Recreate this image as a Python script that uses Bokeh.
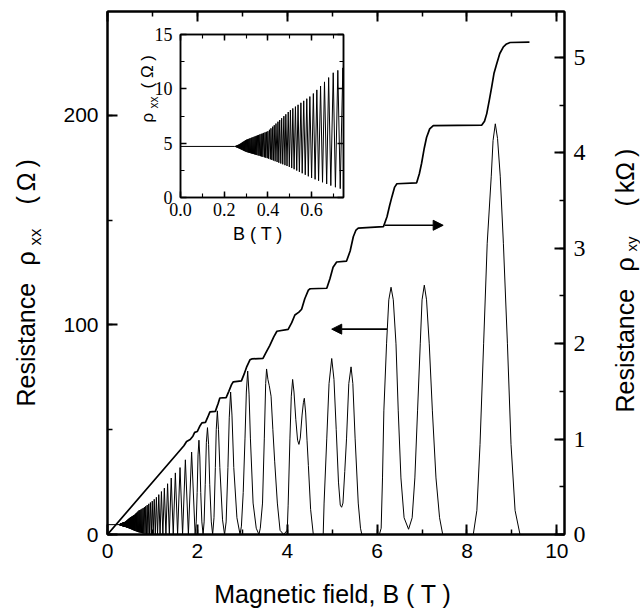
import numpy as np
from bokeh.plotting import figure
from bokeh.models import (LinearAxis, Range1d, Label, Arrow, NormalHead,
                          SingleIntervalTicker, PrintfTickFormatter)
from bokeh.embed import file_html
from bokeh.resources import INLINE

# ---------------- data ----------------
# Hall resistivity rho_xy (kOhm) against B (T)
hall_B = [0.0, 1.60, 1.70, 1.76, 1.84, 1.90, 1.94, 2.00, 2.06, 2.10, 2.18, 2.24, 2.28,
          2.40, 2.46, 2.50, 2.64, 2.70, 2.76, 2.80, 2.98, 3.04, 3.10, 3.17, 3.21, 3.46,
          3.52, 3.61, 3.70, 3.77, 4.02, 4.10, 4.17, 4.26, 4.32, 4.39, 4.47, 4.51, 4.88,
          4.95, 5.02, 5.10, 5.32, 5.40, 5.47, 5.53, 5.58, 6.14, 6.22, 6.28, 6.33, 6.39,
          6.44, 6.88, 6.94, 6.99, 7.05, 7.10, 7.17, 7.25, 8.33, 8.39, 8.44, 8.50, 8.55,
          8.60, 8.66, 8.73, 8.81, 8.88, 8.96, 9.39]
hall_kohm = [0.0, 0.875, 0.93, 0.975, 0.995, 1.03, 1.07, 1.08, 1.14, 1.17, 1.175, 1.24, 1.285,
             1.29, 1.37, 1.43, 1.435, 1.50, 1.57, 1.60, 1.61, 1.68, 1.76, 1.83, 1.84, 1.845,
             1.90, 1.98, 2.07, 2.13, 2.15, 2.22, 2.30, 2.33, 2.36, 2.47, 2.56, 2.575, 2.58,
             2.68, 2.80, 2.855, 2.865, 2.97, 3.12, 3.19, 3.21, 3.225, 3.33, 3.45, 3.54, 3.64,
             3.675, 3.685, 3.78, 3.89, 4.05, 4.16, 4.25, 4.285, 4.29, 4.33, 4.41, 4.56, 4.69,
             4.83, 4.93, 5.04, 5.11, 5.14, 5.155, 5.16]

# rho_xx (Ohm) below the onset of oscillations
rxx_flat_B = [0.0, 0.247]
rxx_flat_ohm = [4.7, 4.7]

# positions (T) of the unresolved low-field oscillation maxima and minima
sdh_max_B = [0.2503, 0.2530, 0.2557, 0.2586, 0.2615, 0.2644, 0.2674, 0.2705, 0.2737,
             0.2769, 0.2802, 0.2836, 0.2871, 0.2907,
             0.294, 0.298, 0.302, 0.306, 0.310, 0.314, 0.318, 0.323, 0.327, 0.332, 0.337,
             0.342, 0.347, 0.352, 0.357, 0.363, 0.369, 0.374, 0.3805, 0.387, 0.393, 0.400,
             0.407, 0.414, 0.422, 0.429, 0.437, 0.446, 0.454, 0.463, 0.473, 0.482, 0.493,
             0.503, 0.514, 0.526, 0.538, 0.551, 0.564, 0.578, 0.592, 0.608, 0.624, 0.641,
             0.659, 0.678, 0.699, 0.720, 0.743, 0.767, 0.793, 0.821, 0.851, 0.883, 0.918,
             0.955, 0.996, 1.040, 1.088, 1.141, 1.200, 1.265, 1.337, 1.418, 1.510, 1.614,
             1.733, 1.872]
sdh_min_B = [0.2489, 0.2516, 0.2543, 0.2571, 0.2600, 0.2629, 0.2659, 0.2690, 0.2721,
             0.2753, 0.2786, 0.2819, 0.2854, 0.2889,
             0.2925, 0.296, 0.300, 0.304, 0.308, 0.312, 0.316, 0.321, 0.325, 0.330, 0.334,
             0.339, 0.344, 0.349, 0.355, 0.360, 0.366, 0.371, 0.377, 0.384, 0.390, 0.397,
             0.403, 0.411, 0.418, 0.425, 0.433, 0.442, 0.450, 0.459, 0.468, 0.478, 0.4875,
             0.498, 0.509, 0.520, 0.532, 0.544, 0.557, 0.571, 0.585, 0.600, 0.616, 0.632,
             0.650, 0.669, 0.688, 0.709, 0.731, 0.755, 0.780, 0.807, 0.836, 0.867, 0.900,
             0.936, 0.975, 1.017, 1.064, 1.114, 1.170, 1.232, 1.300, 1.376, 1.463, 1.560,
             1.671, 1.800]
# upper / lower envelope of the low-field oscillations (Ohm)
env_B = [0.247, 0.27, 0.30, 0.35, 0.40, 0.50, 0.60, 0.70, 0.75, 0.85, 1.00, 1.10, 1.30,
         1.45, 1.60, 1.72, 1.87, 1.95]
env_max = [4.7, 4.9, 5.3, 5.7, 6.1, 8.0, 9.4, 11.5, 12.0, 13.5, 16.0, 18.0, 23.0,
           28.0, 31.5, 35.3, 39.3, 41.0]
env_min = [4.7, 4.5, 4.2, 3.9, 3.6, 2.8, 1.8, 1.0, 0.7, 0.2, 0.0, 0.0, 0.0,
           0.0, 0.0, 0.0, 0.0, 0.0]

# rho_xx (Ohm) along the resolved peaks, B >= 1.95 T
rxx_hi_B = [1.95, 1.975, 1.995, 2.015, 2.035, 2.055, 2.075, 2.10, 2.127,
            2.15, 2.175, 2.20, 2.225, 2.25, 2.275, 2.31, 2.34,
            2.37, 2.40, 2.42, 2.445, 2.47, 2.50, 2.56, 2.605,
            2.64, 2.68, 2.71, 2.74, 2.77, 2.81, 2.88, 2.95,
            2.98, 3.02, 3.06, 3.09, 3.12, 3.15, 3.18, 3.24, 3.31, 3.37,
            3.40, 3.45, 3.49, 3.52, 3.54, 3.57, 3.60, 3.64, 3.68, 3.72, 3.78, 3.84, 3.92, 4.00,
            4.02, 4.06, 4.09, 4.12, 4.15, 4.19, 4.23, 4.26, 4.29, 4.33, 4.36, 4.38, 4.41, 4.44,
            4.47, 4.52, 4.58, 4.80, 4.82, 4.88, 4.93, 4.99, 5.04, 5.09, 5.14, 5.18, 5.21, 5.24,
            5.28, 5.32, 5.37, 5.42, 5.46, 5.51, 5.58, 5.63, 5.66, 6.05, 6.09, 6.12, 6.15, 6.21,
            6.26, 6.31, 6.36, 6.42, 6.47, 6.53, 6.60, 6.70, 6.78, 6.84, 6.90, 6.96, 7.00, 7.05,
            7.10, 7.16, 7.23, 7.31, 7.39, 7.46, 8.14, 8.22, 8.29, 8.37, 8.45, 8.54, 8.58, 8.63,
            8.68, 8.74, 8.81, 8.90, 8.98, 9.07, 9.18, 9.40]
rxx_hi_ohm = [0, 6, 20, 38, 45, 37, 20, 6, 0,
              6, 24, 44, 51, 43, 24, 6, 0,
              8, 32, 50, 59, 50, 32, 7, 0,
              6, 32, 56, 68, 57, 32, 8, 0,
              4, 20, 46, 68, 78, 67, 46, 15, 3, 0,
              3, 15, 46, 72, 79, 74, 71, 66, 50, 35, 15, 2, 0, 2,
              14, 46, 66, 74, 68, 55, 45, 43, 46, 57, 63, 65, 58, 45,
              33, 12, 0, 0, 15, 46, 72, 84, 74, 50, 25, 14, 13, 15,
              30, 46, 72, 80, 72, 46, 15, 3, 0, 0, 3, 27, 59, 91,
              112, 118, 112, 91, 59, 27, 8, 2.5, 8, 27, 59, 91, 112, 119,
              112, 91, 59, 27, 8, 0, 0, 11.5, 43, 91, 139, 171, 188, 196,
              189, 171, 139, 91, 43, 11.5, 0, 0]

# axis ranges
B_MAX, RXX_MAX, RXY_MAX = 10.17, 249.6, 5.48
INSET_B_MAX, INSET_RXX_MAX = 0.746, 15.0

# ---------------- assemble rho_xx curve ----------------
ext_B = np.concatenate([sdh_max_B, sdh_min_B])
ext_val = np.concatenate([np.interp(sdh_max_B, env_B, env_max),
                          np.interp(sdh_min_B, env_B, env_min)])
order = np.argsort(ext_B)
rxx_B = np.concatenate([rxx_flat_B, ext_B[order], rxx_hi_B])
rxx_ohm = np.concatenate([rxx_flat_ohm, ext_val[order], rxx_hi_ohm])

SANS = "Liberation Sans"
SERIF = "Liberation Serif"

# ---------------- main figure ----------------
W, H = 640, 609
p = figure(width=W, height=H, x_range=Range1d(0, B_MAX), y_range=Range1d(0, RXX_MAX),
           output_backend="svg", toolbar_location=None,
           min_border_left=107, min_border_right=76, min_border_top=11, min_border_bottom=75,
           x_axis_location=None, y_axis_location=None)
p.extra_y_ranges = {"rxy": Range1d(0, RXY_MAX)}
p.xgrid.visible = False
p.ygrid.visible = False
p.outline_line_color = "black"
p.outline_line_width = 2
p.background_fill_color = "white"
p.border_fill_color = "white"


def style_axis(ax, font, size, labels=True, tick=10, minor=5, width=2):
    ax.axis_line_width = width
    ax.major_tick_in = tick
    ax.major_tick_out = 0
    ax.minor_tick_in = minor
    ax.minor_tick_out = 0
    ax.major_tick_line_width = width
    ax.minor_tick_line_width = width * 0.75
    ax.major_label_text_font = font
    if labels:
        ax.major_label_text_font_size = size
        ax.major_label_text_color = "black"
        ax.major_label_standoff = 9
    else:
        ax.major_label_text_font_size = "1px"
        ax.major_label_text_color = None
        ax.major_label_standoff = 0


xb = LinearAxis(ticker=SingleIntervalTicker(interval=2, num_minor_ticks=2))
style_axis(xb, SANS, "21px")
p.add_layout(xb, "below")
xt = LinearAxis(ticker=SingleIntervalTicker(interval=2, num_minor_ticks=2))
style_axis(xt, SANS, "21px", labels=False)
p.add_layout(xt, "above")
yl = LinearAxis(ticker=SingleIntervalTicker(interval=100, num_minor_ticks=2))
style_axis(yl, SANS, "21px")
p.add_layout(yl, "left")
yr = LinearAxis(y_range_name="rxy", ticker=SingleIntervalTicker(interval=1, num_minor_ticks=2))
style_axis(yr, SERIF, "24px")
p.add_layout(yr, "right")

p.line(rxx_B, rxx_ohm, line_color="black", line_width=1.0)
p.line(hall_B, hall_kohm, line_color="black", line_width=1.7, y_range_name="rxy")

p.add_layout(Arrow(end=NormalHead(size=10, fill_color="black", line_color="black"),
                   x_start=6.17, y_start=3.24, x_end=7.47, y_end=3.24,
                   line_width=1.6, y_range_name="rxy"))
p.add_layout(Arrow(end=NormalHead(size=10, fill_color="black", line_color="black"),
                   x_start=6.22, y_start=98.0, x_end=4.99, y_end=98.0, line_width=1.6))

# ---------------- inset ----------------
IW, IH = 221, 209
inset = figure(width=IW, height=IH, x_range=Range1d(0, INSET_B_MAX),
               y_range=Range1d(0, INSET_RXX_MAX), output_backend="svg",
               toolbar_location=None, min_border_left=50, min_border_right=8,
               min_border_top=10, min_border_bottom=36,
               x_axis_location=None, y_axis_location=None)
inset.xgrid.visible = False
inset.ygrid.visible = False
inset.outline_line_color = "black"
inset.outline_line_width = 1.5
inset.background_fill_alpha = 0
inset.border_fill_alpha = 0

ib = LinearAxis(ticker=SingleIntervalTicker(interval=0.2, num_minor_ticks=2),
                formatter=PrintfTickFormatter(format="%.1f"))
style_axis(ib, SERIF, "18px", tick=6, minor=4, width=1.5)
ib.major_label_standoff = 5
inset.add_layout(ib, "below")
it = LinearAxis(ticker=SingleIntervalTicker(interval=0.2, num_minor_ticks=2))
style_axis(it, SERIF, "18px", labels=False, tick=6, minor=4, width=1.5)
inset.add_layout(it, "above")
il = LinearAxis(ticker=SingleIntervalTicker(interval=5, num_minor_ticks=2))
style_axis(il, SERIF, "18px", tick=6, minor=4, width=1.5)
il.major_label_standoff = 8
inset.add_layout(il, "left")
ir = LinearAxis(ticker=SingleIntervalTicker(interval=5, num_minor_ticks=2))
style_axis(ir, SERIF, "18px", labels=False, tick=6, minor=4, width=1.5)
inset.add_layout(ir, "right")

inset.line(rxx_B, rxx_ohm, line_color="black", line_width=1.0)
inset.styles = {"position": "absolute", "left": "130px", "top": "24px",
                "width": f"{IW}px", "height": f"{IH}px"}

# ---------------- text layer (axis titles), page pixel coordinates ----------------
txt = figure(width=W, height=H, x_range=Range1d(0, W), y_range=Range1d(H, 0),
             output_backend="svg", toolbar_location=None,
             min_border_left=0, min_border_right=0, min_border_top=0, min_border_bottom=0,
             x_axis_location=None, y_axis_location=None)
txt.xgrid.visible = False
txt.ygrid.visible = False
txt.outline_line_color = None
txt.background_fill_alpha = 0
txt.border_fill_alpha = 0
txt.styles = {"position": "absolute", "left": "0px", "top": "0px",
              "width": f"{W}px", "height": f"{H}px", "pointer-events": "none"}


def lab(x, y, text, size, font=SANS, angle=0.0, align="left"):
    txt.add_layout(Label(x=x, y=y, text=text, text_font=font, text_font_size=size,
                         angle=angle, text_align=align, text_baseline="middle",
                         text_color="black"))


A = np.pi / 2
TS = "\u2009"  # thin space
# main left title
lab(25, 406, "Resistance", "25px", angle=A)
lab(25, 265, "ρ", "25px", angle=A)
lab(35, 245, "xx", "17px", angle=A)
lab(25, 204, f"({TS}Ω{TS})", "25px", angle=A)
# main right title
lab(624, 412, "Resistance", "25px", angle=A)
lab(624, 271, "ρ", "25px", angle=A)
lab(631, 251, "xy", "15px", angle=A)
lab(624, 206, f"({TS}kΩ{TS})", "25px", angle=A)
# bottom title
lab(336, 593, "Magnetic field, B  ( T )", "25px", align="center")
# inset titles
lab(147, 122, "ρ", "17px", angle=A)
lab(153, 108, "xx", "12px", angle=A)
lab(147, 88, "( Ω )", "17px", angle=A)
lab(260, 233, "B  ( T )", "18px", align="center")

open("out.html", "w").write(file_html([p, inset, txt], INLINE))
